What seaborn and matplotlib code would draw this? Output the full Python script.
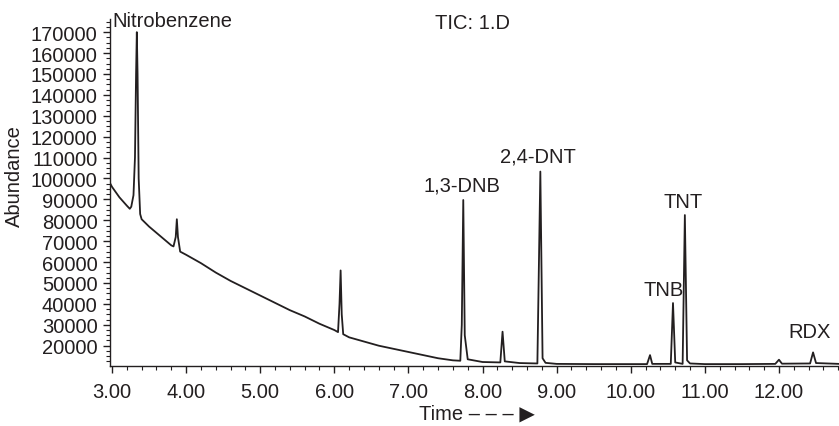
import matplotlib
matplotlib.use("Agg")
import matplotlib.pyplot as plt
from matplotlib.ticker import MultipleLocator, FixedLocator
import seaborn as sns
import pandas as pd

# Total ion chromatogram trace (retention time in min, abundance)
time_min = [
    2.97, 3.00, 3.05, 3.10, 3.15, 3.20, 3.24, 3.26, 3.29, 3.31, 3.325, 3.335,
    3.345, 3.36, 3.38, 3.40, 3.50, 3.60, 3.70, 3.80, 3.83, 3.86, 3.875, 3.89,
    3.92, 4.00, 4.20, 4.40, 4.60, 4.80, 5.00, 5.20, 5.40, 5.60, 5.80, 6.00,
    6.05, 6.07, 6.085, 6.10, 6.12, 6.20, 6.40, 6.60, 6.80, 7.00, 7.20, 7.40,
    7.60, 7.70, 7.72, 7.74, 7.76, 7.80, 8.00, 8.24, 8.27, 8.30, 8.50, 8.74,
    8.78, 8.81, 8.85, 9.00, 9.50, 10.00, 10.22, 10.26, 10.29, 10.54, 10.57,
    10.60, 10.70, 10.73, 10.76, 10.80, 11.00, 11.50, 11.95, 12.00, 12.04,
    12.42, 12.46, 12.50, 12.81,
]
abundance = [
    98000, 96000, 93500, 91000, 89000, 87000, 85500, 86500, 92000, 110000,
    150000, 170000, 150000, 100000, 83000, 80500, 77000, 74000, 71000, 68000,
    67500, 72000, 80500, 72000, 65000, 63500, 59500, 55000, 51000, 47500,
    44000, 40500, 37000, 34000, 30500, 27500, 26500, 40000, 56000, 35000,
    25500, 24000, 22000, 20000, 18500, 17000, 15500, 14000, 13000, 12800,
    30000, 89700, 25000, 13500, 12200, 12000, 26700, 12500, 11700, 11500,
    103300, 14000, 11800, 11300, 11200, 11200, 11200, 15500, 11300, 11300,
    40400, 12000, 11300, 82500, 13000, 11500, 11200, 11200, 11300, 13300,
    11400, 11500, 16800, 11700, 11300,
]

# Compound labels: name, label centre time, label height
peak_names = ["Nitrobenzene", "1,3-DNB", "2,4-DNT", "TNB", "TNT", "RDX"]
peak_times = [3.82, 7.72, 8.75, 10.45, 10.71, 12.41]
label_heights = [175800, 96900, 110900, 46800, 88900, 26600]

x_ticks = [3, 4, 5, 6, 7, 8, 9, 10, 11, 12]
y_ticks = [20000, 30000, 40000, 50000, 60000, 70000, 80000, 90000, 100000,
           110000, 120000, 130000, 140000, 150000, 160000, 170000]

sns.set_style("ticks")
plt.rcParams["font.family"] = ["Liberation Sans", "DejaVu Sans"]
ink = "#231f20"
fs = 14.5

fig = plt.figure(figsize=(8.39, 4.27), dpi=100)
ax = fig.add_axes([0.1311, 0.1412, 0.8689, 0.812])

df = pd.DataFrame({"time": time_min, "abundance": abundance})
sns.lineplot(data=df, x="time", y="abundance", ax=ax, color=ink,
             linewidth=1.3, sort=False, estimator=None)

ax.set_xlim(2.973, 12.81)
ax.set_ylim(10430, 176300)
ax.xaxis.set_major_locator(FixedLocator(x_ticks))
ax.yaxis.set_major_locator(FixedLocator(y_ticks))
ax.xaxis.set_minor_locator(MultipleLocator(0.2))
ax.yaxis.set_minor_locator(MultipleLocator(2500))
ax.set_xticklabels([f"{v:.2f}" for v in x_ticks])
ax.set_yticklabels([str(v) for v in y_ticks])

for s in ("top", "right"):
    ax.spines[s].set_visible(False)
for s in ("left", "bottom"):
    ax.spines[s].set_color(ink)
    ax.spines[s].set_linewidth(1.0)

ax.tick_params(axis="both", which="major", direction="out", length=5,
               width=1.0, color=ink, labelsize=fs, labelcolor=ink)
ax.tick_params(axis="x", which="major", pad=7)
ax.tick_params(axis="y", which="major", pad=4)
ax.tick_params(axis="both", which="minor", direction="out", length=3,
               width=0.8, color=ink)

ax.set_xlabel("Time – – – ▶", fontsize=fs, color=ink)
ax.xaxis.set_label_coords(0.503, -0.11)
ax.set_ylabel("Abundance", fontsize=fs, color=ink)
ax.yaxis.set_label_coords(-0.118, 0.55)

for name, t, h in zip(peak_names, peak_times, label_heights):
    ax.text(t, h, name, ha="center", va="center", fontsize=fs, color=ink)

ax.text(0.497, 0.991, "TIC: 1.D", transform=ax.transAxes, ha="center",
        va="center", fontsize=fs, color=ink)

fig.savefig("out.png", dpi=100)
